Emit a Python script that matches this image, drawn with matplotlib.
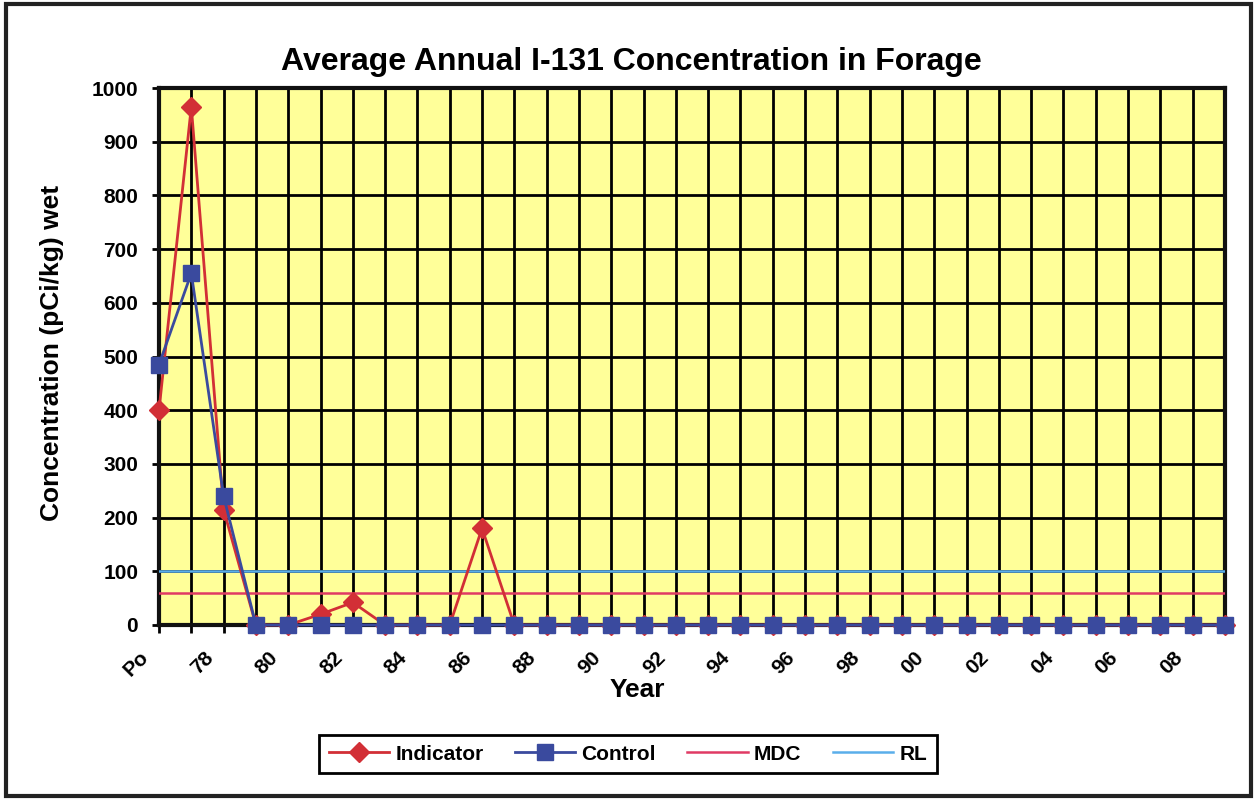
import matplotlib.pyplot as plt
import matplotlib.transforms as mtransforms
from matplotlib.patches import Rectangle

years = ["Po"] + ["%02d" % (y % 100) for y in range(1977, 2010)]
indicator = [400, 965, 215, 0, 0, 20, 42, 0, 0, 0, 180, 0,
             0, 0, 0, 0, 0, 0, 0, 0, 0, 0, 0, 0, 0, 0, 0, 0, 0, 0, 0, 0, 0, 0]
control = [485, 655, 240, 0, 0, 0, 0, 0, 0, 0, 0, 0,
           0, 0, 0, 0, 0, 0, 0, 0, 0, 0, 0, 0, 0, 0, 0, 0, 0, 0, 0, 0, 0, 0]
mdc = 60
rl = 100

plt.rcParams["font.family"] = ["Liberation Sans", "DejaVu Sans"]
plt.rcParams["font.weight"] = "bold"

fig = plt.figure(figsize=(12.57, 7.99), dpi=100)
ax = fig.add_axes([159 / 1257, 1 - 625 / 799, (1225 - 159) / 1257, (625 - 88) / 799])
ax.set_facecolor("#FFFF99")

x = list(range(len(years)))
ax.plot(x, [mdc] * len(x), color="#E03A64", lw=1.8, label="MDC", zorder=3)
ax.plot(x, [rl] * len(x), color="#5AAEEA", lw=1.8, label="RL", zorder=3)
ax.plot(x, indicator, color="#D22F36", lw=2, marker="D", markersize=10,
        label="Indicator", zorder=4, clip_on=False)
ax.plot(x, control, color="#3A4A9E", lw=2, marker="s", markersize=11,
        label="Control", zorder=5, clip_on=False)

ax.set_xlim(0, len(years) - 1)
ax.set_ylim(0, 1000)
ax.set_yticks(range(0, 1001, 100))
ax.set_xticks(x)
ax.set_xticklabels([lab if i % 2 == 0 else "" for i, lab in enumerate(years)],
                   rotation=45, ha="right", va="top", fontsize=15, fontweight="bold",
                   rotation_mode="anchor")
ax.tick_params(axis="y", labelsize=15, length=5, width=2, direction="out", pad=10)
ax.tick_params(axis="x", length=6, width=2, direction="out", pad=14)
for t in ax.get_yticklabels():
    t.set_fontweight("bold")
# nudge the rotated year labels left, like the original
shift = mtransforms.ScaledTranslation(-0.2, 0.05, fig.dpi_scale_trans)
for t in ax.get_xticklabels():
    t.set_transform(t.get_transform() + shift)

ax.grid(True, color="black", lw=2)
ax.set_axisbelow(True)
for s in ax.spines.values():
    s.set_linewidth(3)
    s.set_color("#111111")

fig.text(631 / 1257, 1 - 62 / 799, "Average Annual I-131 Concentration in Forage",
         fontsize=23, fontweight="bold", ha="center", va="center")
fig.text(52 / 1257, 1 - 353 / 799, "Concentration (pCi/kg) wet", fontsize=19,
         fontweight="bold", rotation=90, ha="center", va="center")
fig.text(637 / 1257, 1 - 690 / 799, "Year", fontsize=19, fontweight="bold",
         ha="center", va="center")

handles, labels = ax.get_legend_handles_labels()
order = [2, 3, 0, 1]
leg = fig.legend([handles[i] for i in order], [labels[i] for i in order],
                 loc="center", bbox_to_anchor=(628 / 1257, 1 - 754 / 799), ncol=4,
                 fancybox=False, edgecolor="black", framealpha=1,
                 prop={"weight": "bold", "size": 15}, handlelength=2.9,
                 columnspacing=1.5, handletextpad=0.3, borderpad=0.45)
leg.get_frame().set_linewidth(2)

fig.patches.append(Rectangle((6 / 1257, 3 / 799), 1245 / 1257, 792 / 799,
                             transform=fig.transFigure, fill=False,
                             edgecolor="#222222", lw=3))

fig.savefig("out.png", dpi=100, facecolor="white")
